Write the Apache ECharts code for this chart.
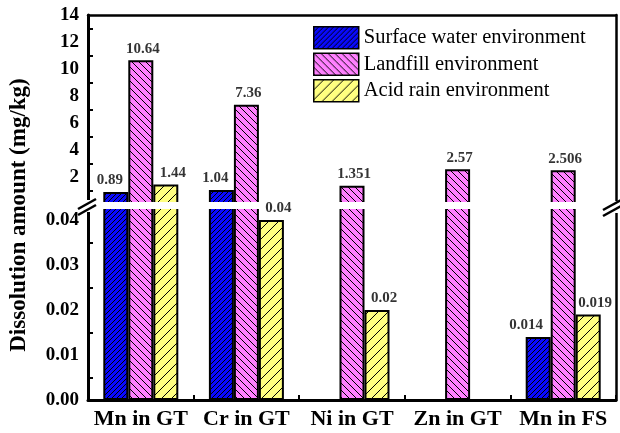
<!DOCTYPE html>
<html>
<head>
<meta charset="utf-8">
<script src="https://cdn.jsdelivr.net/npm/echarts@6/dist/echarts.min.js"></script>
<style>
  html, body { margin: 0; padding: 0; background: #fff; }
  #chart { width: 620px; height: 433px; }
</style>
</head>
<body>
<div id="chart"></div>
<script>
// Dissolution of heavy metals under three leaching environments
const categories = ['Mn in GT', 'Cr in GT', 'Ni in GT', 'Zn in GT', 'Mn in FS'];
const seriesNames = ['Surface water environment', 'Landfill environment', 'Acid rain environment'];
const surfaceWater = [0.89, 1.04, null, null, 0.014];
const landfill = [10.64, 7.36, 1.351, 2.57, 2.506];
const acidRain = [1.44, 0.04, 0.02, null, 0.019];

// Broken value axis: lower segment and upper segment
const lowerLabels = [0, 0.01, 0.02, 0.03, 0.04];
const lowerTicks = [0.005, 0.015, 0.025, 0.035];
const upperLabels = [2, 4, 6, 8, 10, 12, 14];
const upperTicks = [1, 3, 5, 7, 9, 11, 13];
const upperMax = 14;

const FONT = 'Liberation Serif';
const W = 620, H = 433;
const plotLeft = 88, plotRight = 616, plotTop = 15, plotBottom = 400;
const upperZeroY = 204;   // pixel of value 0 on the upper segment
const lowerTopY = 206;    // top edge of the lower segment
const pxPerLower = (plotBottom - 220) / 0.04;
const lowerMax = (plotBottom - lowerTopY) / pxPerLower;
const BAR_W = 25;

// Hatch tiles used as bar fills
function hatch(bg, size, dir, lw) {
  const c = document.createElement('canvas');
  c.width = c.height = size;
  const g = c.getContext('2d');
  g.fillStyle = bg;
  g.fillRect(0, 0, size, size);
  g.strokeStyle = '#000';
  g.lineWidth = lw;
  g.beginPath();
  if (dir === '/') {
    g.moveTo(-1, size + 1); g.lineTo(size + 1, -1);
    g.moveTo(-1, 1); g.lineTo(1, -1);
    g.moveTo(size - 1, size + 1); g.lineTo(size + 1, size - 1);
  } else {
    g.moveTo(-1, -1); g.lineTo(size + 1, size + 1);
    g.moveTo(size - 1, -1); g.lineTo(size + 1, 1);
    g.moveTo(-1, size - 1); g.lineTo(1, size + 1);
  }
  g.stroke();
  return { image: c, repeat: 'repeat' };
}
const fills = [
  hatch('#0a0aff', 5, '/', 1),
  hatch('#ff80ff', 7, '\\', 1),
  hatch('#ffff80', 10, '/', 1)
];
// horizontal nudges of the value labels
const labelShift = [-6, 2, 7];
const specialShift = { '0-4': -12 };

const dataSets = [surfaceWater, landfill, acidRain];

function barData(values, upper) {
  return values.map((v) => {
    if (v === null) return '-';
    if (upper && !(v > lowerMax)) return '-';
    return v;
  });
}

// value labels: drawn by symbol-less scatter points above the band that breaks the axis
function labelData(values, si, upper) {
  return values.map((v, ci) => {
    if (v === null) return '-';
    const inUpper = v > lowerMax;
    if (upper !== inUpper) return '-';
    const key = si + '-' + ci;
    const dx = specialShift[key] !== undefined ? specialShift[key] : labelShift[si];
    return { value: v, label: { offset: [(si - 1) * BAR_W + dx, 0] } };
  });
}

const series = [];
[true, false].forEach((upper) => {
  dataSets.forEach((vals, si) => {
    series.push({
      type: 'bar',
      name: seriesNames[si],
      xAxisIndex: upper ? 0 : 1,
      yAxisIndex: upper ? 0 : 1,
      data: barData(vals, upper),
      barWidth: BAR_W,
      barGap: '0%',
      clip: true,
      z: 1,
      itemStyle: { color: fills[si], borderColor: '#000', borderWidth: 2 },
      emphasis: { disabled: true },
      silent: true
    });
  });
});
[true, false].forEach((upper) => {
  dataSets.forEach((vals, si) => {
    series.push({
      type: 'scatter',
      name: 'label-' + si,
      xAxisIndex: upper ? 0 : 1,
      yAxisIndex: upper ? 0 : 1,
      data: labelData(vals, si, upper),
      symbolSize: 0,
      z: 5,
      silent: true,
      label: {
        show: true,
        position: 'top',
        distance: 4,
        color: '#000',
        fontFamily: FONT,
        fontWeight: 'bold',
        fontSize: 15,
        formatter: (p) => String(p.value)
      },
      emphasis: { disabled: true }
    });
  });
});

const axisLine = (w) => ({ show: true, onZero: false, lineStyle: { color: '#000', width: w } });

const option = {
  animation: false,
  backgroundColor: '#fff',
  grid: [
    { left: plotLeft, right: W - plotRight, top: plotTop, height: upperZeroY - plotTop },
    { left: plotLeft, right: W - plotRight, top: lowerTopY, bottom: H - plotBottom }
  ],
  legend: {
    data: seriesNames,
    orient: 'vertical',
    left: 313,
    top: 26,
    padding: 0,
    itemWidth: 45,
    itemHeight: 22,
    itemGap: 3,
    icon: 'rect',
    itemStyle: { borderColor: '#000', borderWidth: 1.5 },
    textStyle: { fontFamily: FONT, fontSize: 20.5, lineHeight: 22, color: '#000' },
    selectedMode: false
  },
  xAxis: [
    { type: 'category', gridIndex: 0, data: categories, position: 'bottom',
      axisLine: { show: false }, axisTick: { show: false }, axisLabel: { show: false } },
    { type: 'category', gridIndex: 1, data: categories, position: 'bottom',
      axisLine: axisLine(3),
      axisTick: { show: true, inside: true, length: 5, lineStyle: { color: '#000', width: 2 } },
      axisLabel: { interval: 0, color: '#000', fontFamily: FONT, fontWeight: 'bold', fontSize: 22, margin: 8 } },
    { type: 'category', gridIndex: 0, data: categories, position: 'top',
      axisLine: axisLine(2.5), axisTick: { show: false }, axisLabel: { show: false } }
  ],
  yAxis: [
    { type: 'value', gridIndex: 0, min: 0, max: upperMax, position: 'left',
      axisLine: axisLine(3), splitLine: { show: false },
      axisTick: { show: true, inside: true, length: 5, customValues: upperTicks, lineStyle: { color: '#000', width: 2 } },
      axisLabel: { customValues: upperLabels, color: '#000', fontFamily: FONT, fontWeight: 'bold', fontSize: 19, margin: 9 } },
    { type: 'value', gridIndex: 1, min: 0, max: lowerMax, position: 'left',
      axisLine: axisLine(3), splitLine: { show: false },
      axisTick: { show: true, inside: true, length: 5, customValues: lowerTicks, lineStyle: { color: '#000', width: 2 } },
      axisLabel: { customValues: lowerLabels, formatter: (v) => v.toFixed(2), color: '#000', fontFamily: FONT, fontWeight: 'bold', fontSize: 19, margin: 9 } },
    { type: 'value', gridIndex: 0, min: 0, max: upperMax, position: 'right',
      axisLine: axisLine(2.5), splitLine: { show: false }, axisTick: { show: false }, axisLabel: { show: false } },
    { type: 'value', gridIndex: 1, min: 0, max: lowerMax, position: 'right',
      axisLine: axisLine(2.5), splitLine: { show: false }, axisTick: { show: false }, axisLabel: { show: false } }
  ],
  series: series,
  graphic: [
    // band that separates the two axis segments
    { type: 'rect', z: 2, silent: true, shape: { x: 95, y: 202, width: 515, height: 7 }, style: { fill: '#fff' } },
    { type: 'rect', z: 3, silent: true, shape: { x: 81, y: 200, width: 12, height: 12 }, style: { fill: '#fff' } },
    { type: 'rect', z: 3, silent: true, shape: { x: 610, y: 201, width: 10, height: 12 }, style: { fill: '#fff' } },
    { type: 'line', z: 4, silent: true, shape: { x1: 78, y1: 209, x2: 96, y2: 199 }, style: { stroke: '#000', lineWidth: 2.5 } },
    { type: 'line', z: 4, silent: true, shape: { x1: 78, y1: 215, x2: 96, y2: 205 }, style: { stroke: '#000', lineWidth: 2.5 } },
    { type: 'line', z: 4, silent: true, shape: { x1: 603, y1: 210, x2: 621, y2: 200 }, style: { stroke: '#000', lineWidth: 2.5 } },
    { type: 'line', z: 4, silent: true, shape: { x1: 603, y1: 216, x2: 621, y2: 206 }, style: { stroke: '#000', lineWidth: 2.5 } },
    { type: 'text', z: 4, silent: true, x: 19, y: 215, rotation: Math.PI / 2,
      style: { text: 'Dissolution amount (mg/kg)', font: 'bold 23px "Liberation Serif"', fill: '#000',
               align: 'center', verticalAlign: 'middle' } }
  ]
};

const chart = echarts.init(document.getElementById('chart'), null, { renderer: 'canvas' });
chart.setOption(option);
</script>
</body>
</html>
